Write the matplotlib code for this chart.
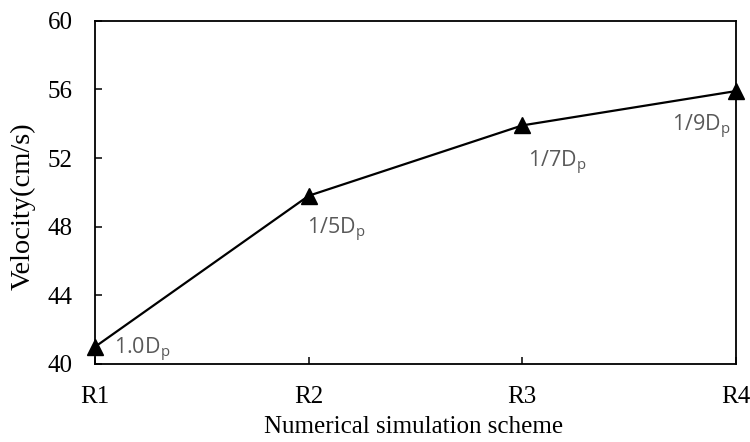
import matplotlib
matplotlib.use("Agg")
import matplotlib.pyplot as plt

schemes = ["R1", "R2", "R3", "R4"]
velocity = [41.0, 49.8, 53.9, 55.9]
labels = ["1.0D$_\\mathregular{p}$", "1/5D$_\\mathregular{p}$", "1/7D$_\\mathregular{p}$", "1/9D$_\\mathregular{p}$"]
y_ticks = [40, 44, 48, 52, 56, 60]

plt.rcParams['font.family'] = ['Liberation Serif', 'DejaVu Serif']

fig = plt.figure(figsize=(7.5, 4.42), dpi=100)
ax = fig.add_axes([0.1267, 0.1765, 0.8546, 0.7767])

x = list(range(len(schemes)))
ax.plot(x, velocity, color='black', lw=1.6, marker='^', ms=11.5, mfc='black', mec='black',
        clip_on=False, zorder=3)

offsets = [(19, -8), (-2, -39), (6, -42), (-64, -40)]
for xi, yi, lab, off in zip(x, velocity, labels, offsets):
    ax.annotate(lab, (xi, yi), xytext=off, textcoords='offset pixels',
                ha='left', va='baseline', fontsize=15.5, color='#595959',
                family=['Open Sans', 'DejaVu Sans'])

ax.set_xlim(0, 3)
ax.set_ylim(40, 60)
ax.set_xticks(x)
ax.set_xticklabels(schemes)
ax.set_yticks(y_ticks)
ax.tick_params(direction='in', length=5, width=1.1, labelsize=18, pad=16)
for s in ax.spines.values():
    s.set_linewidth(1.3)

ax.set_xlabel("Numerical simulation scheme", fontsize=18)
ax.set_ylabel("Velocity(cm/s)", fontsize=20.5)
ax.xaxis.set_label_coords(0.497, -0.152)
ax.yaxis.set_label_coords(-0.092, 0.46)

fig.savefig("out.png", dpi=100)
